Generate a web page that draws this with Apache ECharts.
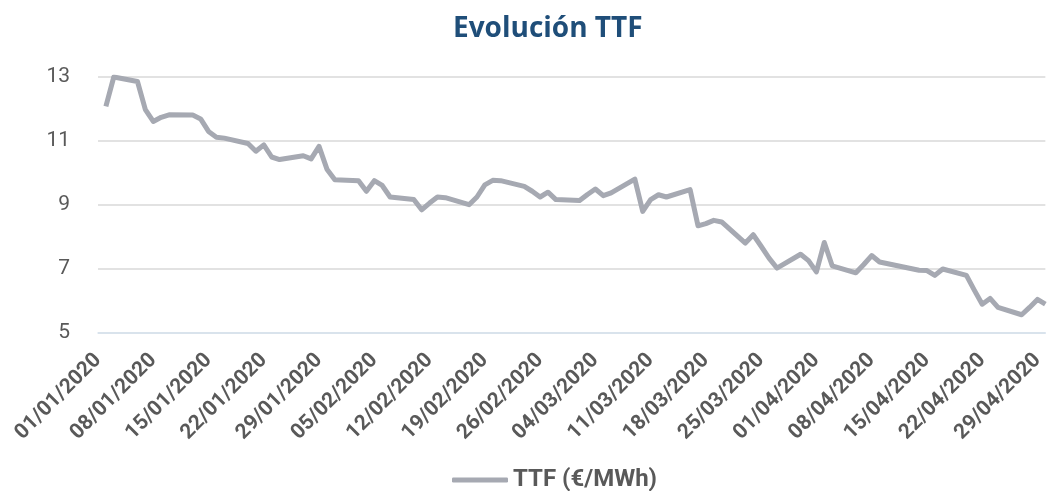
<!DOCTYPE html>
<html>
<head>
	<meta charset="UTF-8">
	<title>Evolución TTF</title>
	<style>
		html, body { margin: 0; padding: 0; background: #fff; }
		#chart { width: 1047px; height: 491px; }
	</style>
</head>
<body>
	<div id="chart"></div>
</body>
<script src="https://cdn.jsdelivr.net/npm/echarts@6/dist/echarts.min.js"></script>
<script>
// dias con cotizacion (resto: fin de semana / festivo) y su precio en €/MWh
var eneDias = [2, 3, 6, 7, 8, 9, 10, 13, 14, 15, 16, 17, 20, 21, 22, 23, 24, 27, 28, 29, 30, 31];
var eneTTF = [12.08, 13.0, 12.86, 11.98, 11.61, 11.74, 11.82, 11.81, 11.69, 11.3, 11.12, 11.09, 10.92, 10.68, 10.88, 10.5, 10.42, 10.54, 10.44, 10.83, 10.12, 9.79];

var febDias = [3, 4, 5, 6, 7, 10, 11, 12, 13, 14, 17, 18, 19, 20, 21, 24, 25, 26, 27, 28];
var febTTF = [9.76, 9.43, 9.76, 9.61, 9.25, 9.17, 8.85, 9.06, 9.25, 9.23, 9.01, 9.25, 9.63, 9.77, 9.76, 9.58, 9.43, 9.25, 9.4, 9.17];

var marDias = [2, 3, 4, 5, 6, 9, 10, 11, 12, 13, 16, 17, 18, 19, 20, 23, 24, 25, 26, 27, 30, 31];
var marTTF = [9.14, 9.33, 9.5, 9.29, 9.38, 9.81, 8.8, 9.17, 9.32, 9.25, 9.48, 8.35, 8.42, 8.52, 8.47, 7.81, 8.07, 7.71, 7.34, 7.03, 7.46, 7.26];

var abrDias = [1, 2, 3, 6, 7, 8, 9, 14, 15, 16, 17, 20, 21, 22, 23, 24, 27, 28, 29, 30];
var abrTTF = [6.91, 7.83, 7.1, 6.88, 7.14, 7.42, 7.22, 6.96, 6.95, 6.8, 7.0, 6.8, 6.34, 5.9, 6.08, 5.8, 5.57, 5.8, 6.05, 5.9];

var meses = [
    { mes: 1, largo: 31, dias: eneDias, valores: eneTTF },
    { mes: 2, largo: 29, dias: febDias, valores: febTTF },
    { mes: 3, largo: 31, dias: marDias, valores: marTTF },
    { mes: 4, largo: 30, dias: abrDias, valores: abrTTF }
];

function dos(n) { return (n < 10 ? '0' : '') + n; }

// eje de fechas diario, huecos en null (se unen con connectNulls)
var fechas = [];
var serie = [];
meses.forEach(function (m) {
    for (var d = 1; d <= m.largo; d++) {
        fechas.push(dos(d) + '/' + dos(m.mes) + '/2020');
        var k = m.dias.indexOf(d);
        serie.push(k >= 0 ? m.valores[k] : null);
    }
});

var chart = echarts.init(document.getElementById('chart'));

var option = {
    animation: false,
    title: {
        text: 'Evolución TTF',
        left: 448,
        top: 10,
        textStyle: {
            color: '#1f4e79',
            fontFamily: 'Open Sans',
            fontWeight: 'bold',
            fontSize: 28
        }
    },
    legend: {
        top: 463,
        left: 447,
        itemWidth: 56,
        itemHeight: 5,
        icon: 'roundRect',
        itemGap: 4,
        textStyle: {
            color: '#595959',
            fontFamily: 'Roboto',
            fontWeight: 'bold',
            fontSize: 24
        },
        data: ['TTF (€/MWh)']
    },
    grid: {
        left: 98,
        right: -3,
        top: 77,
        bottom: 158,
        containLabel: false
    },
    xAxis: {
        type: 'category',
        data: fechas,
        boundaryGap: false,
        axisLine: { show: true, lineStyle: { color: '#d6e3f0', width: 1.5 } },
        axisTick: { show: false },
        axisLabel: {
            interval: 6,
            rotate: 45,
            margin: 24,
            color: '#595959',
            fontFamily: 'Roboto',
            fontWeight: 'bold',
            fontSize: 21
        },
        splitLine: { show: false }
    },
    yAxis: {
        type: 'value',
        min: 5,
        max: 13,
        interval: 2,
        axisLine: { show: false },
        axisTick: { show: false },
        axisLabel: {
            margin: 28,
            color: '#595959',
            fontFamily: 'Roboto',
            fontSize: 21
        },
        splitLine: { lineStyle: { color: '#d9d9d9', width: 1.5 } }
    },
    series: [{
        name: 'TTF (€/MWh)',
        type: 'line',
        data: serie,
        connectNulls: true,
        showSymbol: false,
        symbol: 'none',
        lineStyle: { color: '#a6a9b2', width: 5, join: 'round' },
        itemStyle: { color: '#a6a9b2' }
    }]
};

chart.setOption(option);
</script>
</html>
